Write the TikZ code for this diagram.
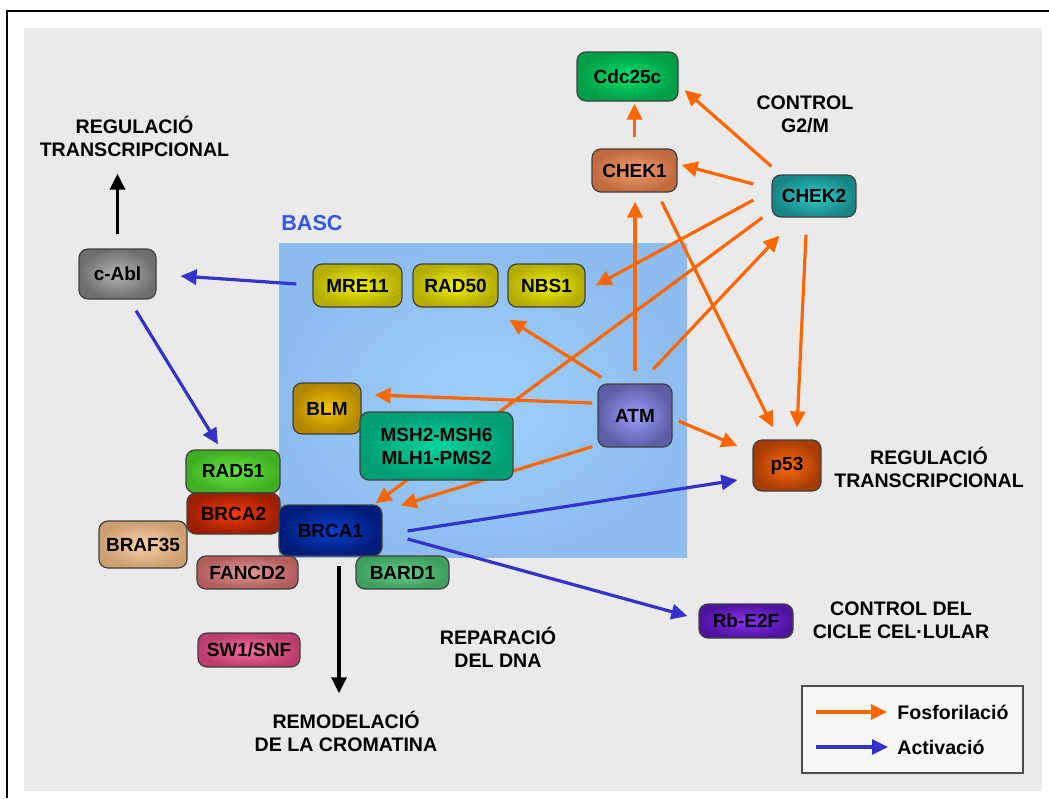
\documentclass[tikz,border=0pt]{standalone}
\usepackage{fontspec}
\setsansfont{Liberation Sans}
\usepackage{tikz}
\usetikzlibrary{arrows.meta,calc}
\definecolor{orangearr}{HTML}{FF6600}
\definecolor{bluearr}{HTML}{3333CC}
\definecolor{bggray}{HTML}{EAEAEA}
\definecolor{bascblue}{HTML}{3355EE}
\definecolor{bascA}{HTML}{8DBDEE}
\definecolor{bascB}{HTML}{9DD0FF}
\definecolor{cdcA}{HTML}{009E45}
\definecolor{cdcB}{HTML}{00E06A}
\definecolor{chekoneA}{HTML}{C06A3E}
\definecolor{chekoneB}{HTML}{F4A070}
\definecolor{chektwoA}{HTML}{178585}
\definecolor{chektwoB}{HTML}{33CCCC}
\definecolor{mrnA}{HTML}{B3AD00}
\definecolor{mrnB}{HTML}{F2F000}
\definecolor{blmA}{HTML}{B08600}
\definecolor{blmB}{HTML}{F5C400}
\definecolor{mshA}{HTML}{009E73}
\definecolor{mshB}{HTML}{00D4A0}
\definecolor{atmA}{HTML}{5E5EA6}
\definecolor{atmB}{HTML}{9C9CFF}
\definecolor{pA}{HTML}{A63C00}
\definecolor{pB}{HTML}{FF6A10}
\definecolor{rbA}{HTML}{4E12A0}
\definecolor{rbB}{HTML}{8A33F0}
\definecolor{cablA}{HTML}{6E6E6E}
\definecolor{cablB}{HTML}{B5B5B5}
\definecolor{radoneA}{HTML}{3FAE22}
\definecolor{radoneB}{HTML}{66E844}
\definecolor{brtwoA}{HTML}{9E1E00}
\definecolor{brtwoB}{HTML}{F53C00}
\definecolor{broneA}{HTML}{001C7A}
\definecolor{broneB}{HTML}{0A3CC8}
\definecolor{brafA}{HTML}{CC9E70}
\definecolor{brafB}{HTML}{FAD2A6}
\definecolor{fancA}{HTML}{B25C5C}
\definecolor{fancB}{HTML}{E39A9A}
\definecolor{bardA}{HTML}{3E9E5E}
\definecolor{bardB}{HTML}{66CC8E}
\definecolor{swA}{HTML}{BC3C6C}
\definecolor{swB}{HTML}{F56E9E}
\pgfdeclarelayer{bg}
\pgfdeclarelayer{edges}
\pgfsetlayers{bg,edges,main}

\begin{document}
\begin{tikzpicture}[
 x=0.5pt,y=-0.5pt,
 font=\fontsize{9.5}{11.5}\selectfont\sffamily\bfseries,
 gene/.style 2 args={draw=black!75,line width=0.6pt,rounded corners=4.5pt,inner sep=0pt,outer color=#1,inner color=#2,align=center},
 lab/.style={align=center,inner sep=0pt,font=\fontsize{9.8}{11.5}\selectfont\sffamily\bfseries},
 pho/.style={-{Triangle[length=8pt,width=7.5pt]},line width=1.6pt,draw=orangearr},
 act/.style={-{Triangle[length=8pt,width=7.5pt]},line width=1.6pt,draw=bluearr},
 effect/.style={-{Triangle[length=8pt,width=7.5pt]},line width=1.6pt,draw=black}
]
\useasboundingbox (0,0) rectangle (1049,798);
\begin{pgfonlayer}{bg}
\fill[bggray] (24,28) rectangle (1042,791);
\draw[line width=1.4pt] (7,798) -- (7,11) -- (1049,11);
\shade[outer color=bascA,inner color=bascB] (279,243) rectangle (687,557);
\end{pgfonlayer}
\node[lab,text=bascblue,font=\fontsize{10.8}{13}\selectfont\sffamily\bfseries] (basc) at (312,223) {BASC};

% gens i complexos
\node[gene={cdcA}{cdcB},minimum width=50.5pt,minimum height=24.5pt] (cdc) at (627.5,76.5) {Cdc25c};
\node[gene={chekoneA}{chekoneB},minimum width=42.5pt,minimum height=21.5pt] (chekone) at (634.5,170.5) {CHEK1};
\node[gene={chektwoA}{chektwoB},minimum width=42pt,minimum height=21pt] (chektwo) at (814,196) {CHEK2};
\node[gene={mrnA}{mrnB},minimum width=44.5pt,minimum height=21.5pt] (mre) at (357.5,285.5) {MRE11};
\node[gene={mrnA}{mrnB},minimum width=42.5pt,minimum height=21.5pt] (radfifty) at (455.5,285.5) {RAD50};
\node[gene={mrnA}{mrnB},minimum width=38.5pt,minimum height=21.5pt] (nbs) at (546.5,285.5) {NBS1};
\node[gene={blmA}{blmB},minimum width=34pt,minimum height=25.5pt] (blm) at (327,408.5) {BLM};
\node[gene={mshA}{mshB},minimum width=76.5pt,minimum height=34pt] (msh) at (436.5,446) {MSH2-MSH6\\MLH1-PMS2};
\node[gene={atmA}{atmB},minimum width=37pt,minimum height=31.5pt] (atm) at (635,415.5) {ATM};
\node[gene={pA}{pB},minimum width=34pt,minimum height=25.5pt] (pfiftythree) at (787,465.5) {p53};
\node[gene={rbA}{rbB},minimum width=47pt,minimum height=17pt] (rbe) at (746,621) {Rb-E2F};
\node[gene={cablA}{cablB},minimum width=38.5pt,minimum height=25pt] (cabl) at (117.5,274) {c-Abl};
\node[gene={radoneA}{radoneB},minimum width=47pt,minimum height=21.5pt] (radfiftyone) at (233,471.5) {RAD51};
\node[gene={brtwoA}{brtwoB},minimum width=46.5pt,minimum height=20.5pt] (brcatwo) at (233.5,513.5) {BRCA2};
\node[gene={brafA}{brafB},minimum width=44pt,minimum height=23.5pt] (braf) at (143,544.5) {BRAF35};
\node[gene={broneA}{broneB},minimum width=51.5pt,minimum height=25.5pt] (brcaone) at (330.5,530.5) {BRCA1};
\node[gene={fancA}{fancB},minimum width=50.5pt,minimum height=16.5pt] (fancd) at (247.5,572.5) {FANCD2};
\node[gene={bardA}{bardB},minimum width=46.5pt,minimum height=16.5pt] (bard) at (402.5,572.5) {BARD1};
\node[gene={swA}{swB},minimum width=51pt,minimum height=17pt] (swsnf) at (249,650) {SW1/SNF};

% processos
\node[lab] (regtop) at (134.5,136) {REGULACIÓ\\TRANSCRIPCIONAL};
\node[lab] (ctrlgtwo) at (805,114) {CONTROL\\G2/M};
\node[lab] (regright) at (929,467.5) {REGULACIÓ\\TRANSCRIPCIONAL};
\node[lab] (ctrlcicle) at (901,620) {CONTROL DEL\\CICLE CEL·LULAR};
\node[lab] (repar) at (498,647) {REPARACIÓ\\DEL DNA};
\node[lab] (remod) at (346,731) {REMODELACIÓ\\DE LA CROMATINA};

% fosforilacions i activacions
\begin{pgfonlayer}{edges}
\draw[pho] ($(chekone.north)+(0,-11)$) -- ($(chekone.north |- cdc.south)+(0,2)$);
\draw[pho] ($(chektwo.north west)+(0,-8)$) -- ($(cdc.east)+(6,13.5)$);
\draw[pho] ($(chektwo.west)+(-18,-12)$) -- ($(chekone.east)+(4,-5.5)$);
\draw[pho] ($(chektwo.west)+(-18,4)$) -- ($(nbs.east)+(10,0)$);
\draw[pho] ($(chektwo.south west)+(-9,0)$) -- ($(brcaone.north east)+(-7,-1)$);
\draw[pho] ($(atm.north)+(18,-14)$) -- ($(chektwo.south west)+(8,18)$);
\draw[pho] ($(atm.north)+(0,-12)$) -- ($(atm.north |- chekone.south)+(0,9)$);
\draw[pho] ($(chekone.south east)+(-16,9)$) -- ($(pfiftythree.north)+(-14,-12)$);
\draw[pho] ($(chektwo.south)+(-8,17)$) -- ($(pfiftythree.north)+(10,-12)$);
\draw[pho] ($(atm.north west)+(4,-6)$) -- ($(nbs.south west)+(2,12)$);
\draw[pho] ($(atm.west)+(-5,-12.5)$) -- ($(blm.east)+(13,-13.5)$);
\draw[pho] ($(atm.south west)+(-5,-1)$) -- ($(brcaone.north east)+(18,1)$);
\draw[pho] ($(atm.east)+(6,5.5)$) -- ($(pfiftythree.west)+(-15,-19.5)$);
\draw[act] ($(mre.west)+(-16,-1.5)$) -- ($(cabl.east)+(24,2)$);
\draw[act] ($(cabl.south)+(18.5,11)$) -- ($(radfiftyone.north)+(-15,-5)$);
\draw[act] ($(brcaone.east)+(25,0.5)$) -- ($(pfiftythree.west)+(-15,14.5)$);
\draw[act] ($(brcaone.east)+(25,8.5)$) -- ($(rbe.west)+(-11,-5)$);
\draw[effect] ($(cabl.north)+(0,-14)$) -- ($(cabl.north |- regtop.south)+(0,17)$);
\draw[effect] ($(brcaone.south)+(8.5,9)$) -- ($(remod.north)+(-7,-17)$);
\end{pgfonlayer}

% llegenda
\node[draw=black!70,fill=white!97!black,line width=0.6pt,minimum width=110.5pt,minimum height=43.5pt,inner sep=0pt] (legend) at (912.5,729.5) {};
\node[lab,anchor=west] (fos) at (897,712) {Fosforilació};
\node[lab,anchor=west] (actv) at (897,747) {Activació};
\draw[pho] ($(fos.west)+(-81,0)$) -- ($(fos.west)+(-10,0)$);
\draw[act] ($(actv.west)+(-81,0)$) -- ($(actv.west)+(-9,0)$);
\end{tikzpicture}
\end{document}
